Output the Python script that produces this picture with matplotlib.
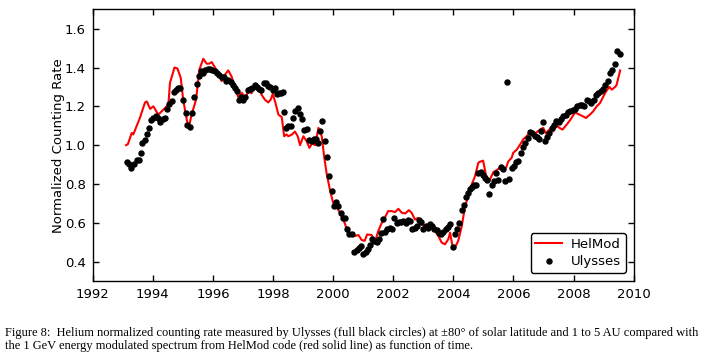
import matplotlib
matplotlib.use("Agg")
import matplotlib.pyplot as plt

# HelMod model curve (red line)
helmod_year = [1993.11, 1993.17, 1993.30, 1993.35, 1993.46, 1993.57, 1993.74, 1993.80, 1993.91,
               1994.02, 1994.18, 1994.40, 1994.52, 1994.57, 1994.72, 1994.82, 1994.93, 1995.01,
               1995.13, 1995.20, 1995.29, 1995.44, 1995.55, 1995.68, 1995.79, 1995.88, 1995.96,
               1996.07, 1996.18, 1996.29, 1996.40, 1996.51, 1996.62, 1996.73, 1996.84, 1996.96,
               1997.07, 1997.18, 1997.29, 1997.40, 1997.50, 1997.62, 1997.73, 1997.84, 1997.92,
               1997.99, 1998.08, 1998.18, 1998.29, 1998.37, 1998.45, 1998.51, 1998.62, 1998.73,
               1998.82, 1998.90, 1999.01, 1999.12, 1999.21, 1999.30, 1999.40, 1999.51, 1999.62,
               1999.70, 1999.78, 1999.89, 2000.00, 2000.12, 2000.23, 2000.39, 2000.50, 2000.62,
               2000.73, 2000.84, 2000.95, 2001.05, 2001.13, 2001.28, 2001.39, 2001.50, 2001.61,
               2001.72, 2001.83, 2001.95, 2002.06, 2002.17, 2002.28, 2002.40, 2002.52, 2002.61,
               2002.72, 2002.83, 2002.94, 2003.05, 2003.17, 2003.28, 2003.39, 2003.50, 2003.61,
               2003.72, 2003.83, 2003.89, 2003.96, 2004.05, 2004.16, 2004.28, 2004.39, 2004.50,
               2004.61, 2004.72, 2004.83, 2004.88, 2004.99, 2005.08, 2005.19, 2005.33, 2005.44,
               2005.55, 2005.65, 2005.75, 2005.83, 2005.94, 2005.99, 2006.11, 2006.22, 2006.32,
               2006.44, 2006.55, 2006.66, 2006.77, 2006.88, 2006.99, 2007.08, 2007.19, 2007.32,
               2007.44, 2007.54, 2007.63, 2007.77, 2007.88, 2008.05, 2008.16, 2008.27, 2008.41,
               2008.54, 2008.65, 2008.77, 2008.88, 2008.99, 2009.08, 2009.19, 2009.27, 2009.38,
               2009.43, 2009.55]
helmod_rate = [1.000, 1.005, 1.063, 1.055, 1.097, 1.140, 1.220, 1.225, 1.187,
               1.200, 1.157, 1.190, 1.210, 1.320, 1.400, 1.395, 1.346, 1.235,
               1.130, 1.092, 1.157, 1.235, 1.390, 1.445, 1.420, 1.420, 1.428,
               1.400, 1.363, 1.330, 1.363, 1.385, 1.354, 1.300, 1.248, 1.270,
               1.243, 1.277, 1.268, 1.310, 1.300, 1.260, 1.234, 1.220, 1.234,
               1.264, 1.218, 1.157, 1.145, 1.046, 1.055, 1.046, 1.054, 1.070,
               1.046, 1.000, 1.046, 1.020, 0.986, 1.010, 1.000, 1.089, 1.046,
               0.943, 0.857, 0.772, 0.703, 0.678, 0.652, 0.597, 0.540, 0.540,
               0.532, 0.537, 0.511, 0.507, 0.540, 0.537, 0.500, 0.557, 0.597,
               0.626, 0.660, 0.660, 0.655, 0.672, 0.652, 0.648, 0.665, 0.652,
               0.617, 0.625, 0.592, 0.583, 0.590, 0.583, 0.557, 0.532, 0.498,
               0.489, 0.515, 0.549, 0.489, 0.472, 0.506, 0.583, 0.686, 0.737,
               0.797, 0.840, 0.909, 0.914, 0.920, 0.849, 0.814, 0.861, 0.871,
               0.883, 0.878, 0.883, 0.917, 0.935, 0.960, 0.977, 1.003, 1.029,
               1.046, 1.066, 1.054, 1.066, 1.080, 1.089, 1.060, 1.080, 1.071,
               1.100, 1.088, 1.080, 1.106, 1.128, 1.169, 1.160, 1.152, 1.140,
               1.157, 1.174, 1.200, 1.217, 1.251, 1.277, 1.300, 1.286, 1.300,
               1.310, 1.385]

# Ulysses measurements (black dots)
ulysses_year = [1993.13, 1993.22, 1993.28, 1993.37, 1993.46, 1993.55, 1993.60, 1993.65, 1993.74,
                1993.82, 1993.88, 1993.95, 1994.02, 1994.10, 1994.17, 1994.24, 1994.33, 1994.40,
                1994.48, 1994.55, 1994.63, 1994.70, 1994.77, 1994.84, 1994.90, 1995.01, 1995.09,
                1995.15, 1995.24, 1995.31, 1995.38, 1995.46, 1995.54, 1995.61, 1995.68, 1995.75,
                1995.83, 1995.90, 1995.98, 1996.06, 1996.14, 1996.21, 1996.29, 1996.36, 1996.43,
                1996.51, 1996.59, 1996.66, 1996.73, 1996.80, 1996.87, 1996.94, 1997.01, 1997.08,
                1997.17, 1997.23, 1997.30, 1997.39, 1997.46, 1997.53, 1997.61, 1997.69, 1997.77,
                1997.84, 1997.91, 1997.99, 1998.06, 1998.13, 1998.20, 1998.27, 1998.33, 1998.37,
                1998.44, 1998.51, 1998.59, 1998.67, 1998.73, 1998.82, 1998.90, 1998.96, 1999.03,
                1999.12, 1999.21, 1999.29, 1999.36, 1999.44, 1999.51, 1999.56, 1999.64, 1999.72,
                1999.78, 1999.87, 1999.95, 2000.03, 2000.09, 2000.17, 2000.25, 2000.32, 2000.39,
                2000.47, 2000.54, 2000.62, 2000.69, 2000.78, 2000.86, 2000.93, 2001.00, 2001.08,
                2001.15, 2001.23, 2001.29, 2001.37, 2001.45, 2001.52, 2001.59, 2001.67, 2001.74,
                2001.80, 2001.88, 2001.96, 2002.03, 2002.11, 2002.19, 2002.26, 2002.33, 2002.41,
                2002.48, 2002.56, 2002.63, 2002.71, 2002.78, 2002.86, 2002.93, 2003.00, 2003.08,
                2003.15, 2003.22, 2003.30, 2003.37, 2003.44, 2003.52, 2003.59, 2003.66, 2003.74,
                2003.81, 2003.89, 2003.98, 2004.05, 2004.13, 2004.20, 2004.28, 2004.35, 2004.42,
                2004.50, 2004.57, 2004.63, 2004.69, 2004.76, 2004.83, 2004.91, 2004.97, 2005.05,
                2005.13, 2005.19, 2005.27, 2005.35, 2005.42, 2005.49, 2005.57, 2005.65, 2005.72,
                2005.77, 2005.86, 2005.94, 2006.02, 2006.08, 2006.16, 2006.24, 2006.31, 2006.39,
                2006.47, 2006.55, 2006.62, 2006.70, 2006.78, 2006.86, 2006.92, 2006.98, 2007.06,
                2007.12, 2007.19, 2007.27, 2007.35, 2007.42, 2007.50, 2007.58, 2007.66, 2007.74,
                2007.82, 2007.89, 2007.97, 2008.05, 2008.13, 2008.20, 2008.28, 2008.35, 2008.43,
                2008.51, 2008.59, 2008.67, 2008.74, 2008.82, 2008.90, 2008.98, 2009.05, 2009.13,
                2009.21, 2009.28, 2009.37, 2009.45, 2009.53]
ulysses_rate = [0.914, 0.905, 0.883, 0.905, 0.926, 0.926, 0.962, 1.012, 1.025,
                1.060, 1.089, 1.132, 1.140, 1.149, 1.140, 1.118, 1.137, 1.140,
                1.187, 1.212, 1.230, 1.272, 1.282, 1.296, 1.294, 1.234, 1.166,
                1.106, 1.092, 1.166, 1.248, 1.317, 1.358, 1.384, 1.372, 1.389,
                1.392, 1.392, 1.389, 1.380, 1.372, 1.364, 1.353, 1.350, 1.332,
                1.334, 1.323, 1.310, 1.294, 1.280, 1.234, 1.250, 1.234, 1.250,
                1.282, 1.289, 1.294, 1.310, 1.299, 1.289, 1.282, 1.320, 1.320,
                1.303, 1.299, 1.282, 1.294, 1.265, 1.269, 1.269, 1.272, 1.169,
                1.089, 1.097, 1.100, 1.140, 1.174, 1.191, 1.161, 1.137, 1.080,
                1.085, 1.025, 1.020, 1.032, 1.032, 1.012, 1.071, 1.123, 1.020,
                0.938, 0.840, 0.763, 0.689, 0.708, 0.686, 0.652, 0.626, 0.623,
                0.566, 0.540, 0.540, 0.451, 0.460, 0.468, 0.480, 0.437, 0.451,
                0.467, 0.484, 0.518, 0.506, 0.500, 0.518, 0.549, 0.617, 0.554,
                0.570, 0.575, 0.566, 0.623, 0.597, 0.604, 0.604, 0.609, 0.597,
                0.614, 0.609, 0.566, 0.575, 0.583, 0.614, 0.604, 0.566, 0.583,
                0.575, 0.592, 0.583, 0.566, 0.561, 0.549, 0.544, 0.554, 0.566,
                0.580, 0.592, 0.475, 0.540, 0.566, 0.600, 0.665, 0.691, 0.732,
                0.755, 0.772, 0.786, 0.797, 0.797, 0.854, 0.863, 0.845, 0.832,
                0.823, 0.749, 0.797, 0.814, 0.854, 0.823, 0.886, 0.878, 0.814,
                1.323, 0.828, 0.883, 0.895, 0.912, 0.917, 0.957, 0.989, 1.012,
                1.037, 1.066, 1.063, 1.049, 1.043, 1.032, 1.075, 1.120, 1.020,
                1.043, 1.063, 1.089, 1.106, 1.123, 1.120, 1.137, 1.149, 1.157,
                1.169, 1.178, 1.183, 1.187, 1.200, 1.209, 1.206, 1.204, 1.234,
                1.226, 1.217, 1.234, 1.260, 1.269, 1.277, 1.289, 1.310, 1.328,
                1.372, 1.385, 1.418, 1.483, 1.471]

xticks = [1992, 1994, 1996, 1998, 2000, 2002, 2004, 2006, 2008, 2010]
yticks = [0.4, 0.6, 0.8, 1.0, 1.2, 1.4, 1.6]

plt.rcParams['font.family'] = ['DejaVu Sans']
fig = plt.figure(figsize=(7.06, 3.57), dpi=100)
ax = fig.add_axes([92.7 / 706, 1 - 281 / 357, (633.7 - 92.7) / 706, (281 - 9.3) / 357])

ax.plot(helmod_year, helmod_rate, color='red', lw=1.5, label='HelMod', zorder=2)
ax.plot(ulysses_year, ulysses_rate, 'o', color='black', ms=3.6, mec='black', label='Ulysses', zorder=3)

ax.set_xlim(1992, 2010)
ax.set_ylim(0.3, 1.7)
ax.set_xticks(xticks)
ax.set_yticks(yticks)
ax.set_xticklabels([str(t) for t in xticks])
ax.set_yticklabels([f"{t:.1f}" for t in yticks])
ax.tick_params(direction='in', length=4, width=1, top=True, right=True, labelsize=9.5, pad=5)
for s in ax.spines.values():
    s.set_linewidth(1)
ax.set_ylabel('Normalized Counting Rate', fontsize=9.5, labelpad=0)

leg = ax.legend(loc='lower right', numpoints=1, fontsize=9.5, frameon=True, fancybox=True,
                handlelength=2.0, borderaxespad=0.6, borderpad=0.35, labelspacing=0.35,
                handletextpad=0.7)
leg.get_frame().set_edgecolor('black')
leg.get_frame().set_linewidth(1)
leg.get_frame().set_alpha(1)

cap1 = ("Figure 8:  Helium normalized counting rate measured by Ulysses (full black circles) at \u00b180\u00b0 "
        "of solar latitude and 1 to 5 AU compared with")
cap2 = "the 1 GeV energy modulated spectrum from HelMod code (red solid line) as function of time."
t1 = fig.text(5 / 706, 1 - 333 / 357, cap1, fontsize=8, family='Liberation Serif', va='center', ha='left')
t2 = fig.text(5 / 706, 1 - 346 / 357, cap2, fontsize=8, family='Liberation Serif', va='center', ha='left')
fig.canvas.draw()
r = fig.canvas.get_renderer()
w = t1.get_window_extent(r).width
fs = 8 * 694 / w
t1.set_fontsize(fs)
t2.set_fontsize(fs)

fig.savefig('out.png', dpi=100)
